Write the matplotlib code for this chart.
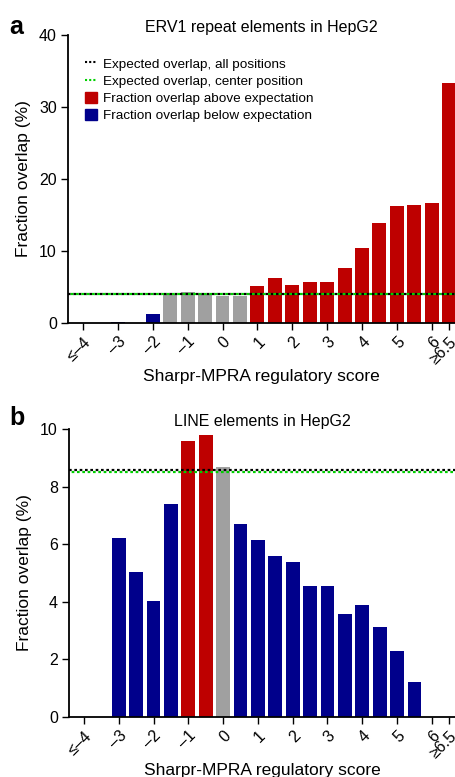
import matplotlib.pyplot as plt
from matplotlib.lines import Line2D
from matplotlib.patches import Patch

plt.rcParams['font.family'] = ['Liberation Sans', 'DejaVu Sans']

# score bins, 0.5 apart
scores = [-4, -3.5, -3, -2.5, -2, -1.5, -1, -0.5, 0, 0.5, 1, 1.5, 2, 2.5, 3, 3.5, 4, 4.5, 5, 5.5, 6, 6.5]
tick_pos = [-4, -3, -2, -1, 0, 1, 2, 3, 4, 5, 6, 6.5]
tick_labels = ['≤–4', '–3', '–2', '–1', '0', '1', '2', '3', '4', '5', '6', '≥6.5']

# panel a: ERV1
erv1_vals = [0, 0, 0.1, 0, 1.25, 4.0, 4.3, 4.0, 3.8, 3.8, 5.1, 6.25, 5.3, 5.7, 5.7, 7.6, 10.4, 13.9, 16.25, 16.4, 16.7, 33.3]
erv1_class = ['n', 'n', 'below', 'n', 'below', 'ns', 'ns', 'ns', 'ns', 'ns',
              'above', 'above', 'above', 'above', 'above', 'above', 'above', 'above', 'above', 'above', 'above', 'above']
erv1_exp_all = 4.03
erv1_exp_center = 4.05

# panel b: LINE
line_vals = [0, 0, 6.2, 5.05, 4.02, 7.4, 9.59, 9.8, 8.69, 6.7, 6.14, 5.58, 5.37, 4.54, 4.54, 3.56, 3.88, 3.11, 2.28, 1.23, 0, 0]
line_class = ['n', 'n', 'below', 'below', 'below', 'below', 'above', 'above', 'ns', 'below',
              'below', 'below', 'below', 'below', 'below', 'below', 'below', 'below', 'below', 'below', 'n', 'n']
line_exp_all = 8.58
line_exp_center = 8.52

colors = {'above': '#BE0000', 'below': '#00008B', 'ns': '#A0A0A0', 'n': '#00008B'}
green = '#00D000'

fig = plt.figure(figsize=(4.55, 7.77), dpi=100)
ax_a = fig.add_axes([0.1495, 0.5843, 0.85, 0.3707])
ax_b = fig.add_axes([0.1516, 0.0772, 0.848, 0.3707])


def draw(ax, vals, cls, e_all, e_center, ymax, yticks, title):
    ax.bar(scores, vals, width=0.4, color=[colors[c] for c in cls])
    ax.axhline(e_all, color='black', ls=(0, (1.2, 1.2)), lw=1.6)
    ax.axhline(e_center, color=green, ls=(1.2, (1.2, 1.2)), lw=1.6)
    ax.set_xlim(-4.43, 6.66)
    ax.set_ylim(0, ymax)
    ax.set_yticks(yticks)
    ax.set_xticks(tick_pos)
    ax.set_xticklabels(tick_labels, rotation=45, ha='right', va='top',
                       rotation_mode='anchor', fontsize=11.5)
    ax.tick_params(axis='y', labelsize=11.5, length=5, width=1, pad=3)
    ax.tick_params(axis='x', length=5, width=1, pad=3)
    for s in ['top', 'right']:
        ax.spines[s].set_visible(False)
    ax.spines['left'].set_linewidth(1.3)
    ax.spines['bottom'].set_linewidth(1.3)
    ax.set_ylabel('Fraction overlap (%)', fontsize=12.5, labelpad=6)
    ax.set_xlabel('Sharpr-MPRA regulatory score', fontsize=12.5, labelpad=2)
    ax.set_title(title, fontsize=11.5, pad=2)


draw(ax_a, erv1_vals, erv1_class, erv1_exp_all, erv1_exp_center, 40, [0, 10, 20, 30, 40],
     'ERV1 repeat elements in HepG2')
draw(ax_b, line_vals, line_class, line_exp_all, line_exp_center, 10, [0, 2, 4, 6, 8, 10],
     'LINE elements in HepG2')

handles = [
    Line2D([], [], color='black', ls=(0, (1, 1)), lw=1.5),
    Line2D([], [], color=green, ls=(0, (1, 1)), lw=1.5),
    Patch(color=colors['above']),
    Patch(color=colors['below']),
]
labels = ['Expected overlap, all positions', 'Expected overlap, center position',
          'Fraction overlap above expectation', 'Fraction overlap below expectation']
ax_a.legend(handles, labels, loc='upper left', bbox_to_anchor=(0.02, 0.955), frameon=False,
            fontsize=9.7, handlelength=0.9, handleheight=0.9, handletextpad=0.4,
            labelspacing=0.3, borderaxespad=0.3)

fig.text(0.02, 0.965, 'a', fontsize=18, fontweight='bold', va='center')
fig.text(0.02, 0.462, 'b', fontsize=18, fontweight='bold', va='center')

fig.savefig('out.png', dpi=100)
